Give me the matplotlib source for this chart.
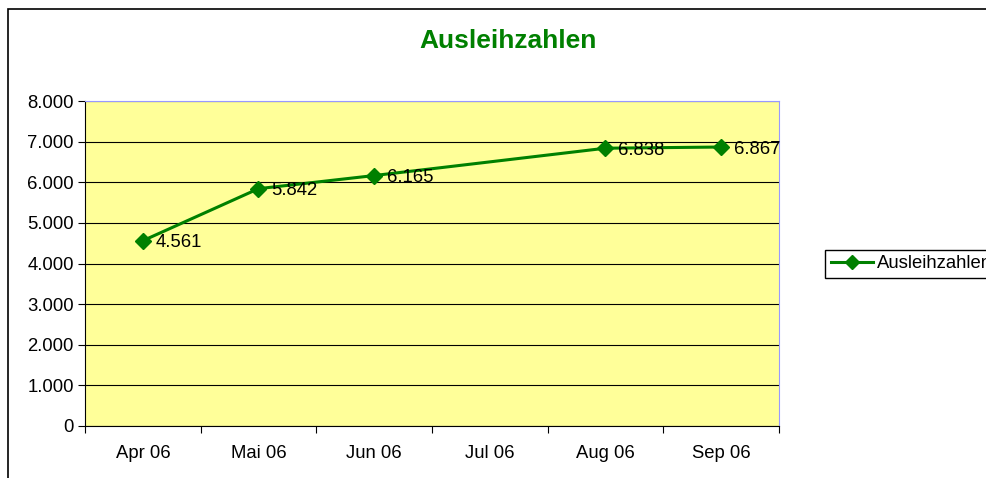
import matplotlib
matplotlib.use("Agg")
import matplotlib.pyplot as plt
from matplotlib.patches import Rectangle
from matplotlib.ticker import FuncFormatter
import numpy as np

months = ["Apr 06", "Mai 06", "Jun 06", "Jul 06", "Aug 06", "Sep 06"]
loans = [4561, 5842, 6165, None, 6838, 6867]
series_name = "Ausleihzahlen"

plt.rcParams["font.family"] = ["Liberation Sans", "DejaVu Sans"]

fig = plt.figure(figsize=(9.86, 4.78), dpi=100)
ax = fig.add_axes([85 / 986, 1 - 426 / 478, (779 - 85) / 986, (426 - 101) / 478])

# chart area border (runs off right/bottom edge like the screenshot)
fig.patches.append(Rectangle((8 / 986, -0.1), 1.2, 1.1 - 9 / 478, transform=fig.transFigure,
                             fill=False, edgecolor="black", linewidth=1.2, zorder=0))

ax.set_facecolor("#FFFF99")
xs = [i for i, v in enumerate(loans) if v is not None]
ys = [v for v in loans if v is not None]
ax.plot(xs, ys, color="#008000", linewidth=2.2, marker="D", markersize=8.5,
        label=series_name, zorder=3)
for x, y in zip(xs, ys):
    ax.annotate(f"{y:,}".replace(",", "."), (x, y), xytext=(9, -1.5),
                textcoords="offset points", ha="left", va="center", fontsize=13.3, zorder=4)

ax.set_xlim(-0.5, len(months) - 0.5)
ax.set_ylim(0, 8000)
ax.set_yticks(np.arange(0, 8001, 1000))
ax.yaxis.set_major_formatter(FuncFormatter(lambda v, p: f"{int(v):,}".replace(",", ".")))
ax.set_xticks(np.arange(-0.5, len(months), 1.0))
ax.set_xticklabels([])
ax.set_xticks(range(len(months)), minor=True)
ax.set_xticklabels(months, minor=True)
ax.tick_params(axis="x", which="minor", length=0, pad=14, labelsize=13.3)
ax.tick_params(axis="x", which="major", length=5, direction="out")
ax.tick_params(axis="y", length=5, direction="out", labelsize=13.3, pad=3)
ax.grid(axis="y", color="black", linewidth=0.8)
ax.set_axisbelow(True)

ax.spines["top"].set_color("#9999FF")
ax.spines["right"].set_color("#9999FF")
ax.spines["left"].set_color("black")
ax.spines["bottom"].set_color("black")

fig.text(508 / 986, 1 - 41 / 478, "Ausleihzahlen", ha="center", va="center",
         fontsize=19, fontweight="bold", color="#008000")

# legend runs off the right edge, as in the reference
fig.legend(loc="center left", bbox_to_anchor=(825 / 986, 1 - 264 / 478), borderaxespad=0,
           fancybox=False, edgecolor="black", fontsize=13.3, handlelength=2.3,
           handletextpad=0.2, borderpad=0.3, framealpha=1, markerscale=0.8)

fig.savefig("out.png", dpi=100)
